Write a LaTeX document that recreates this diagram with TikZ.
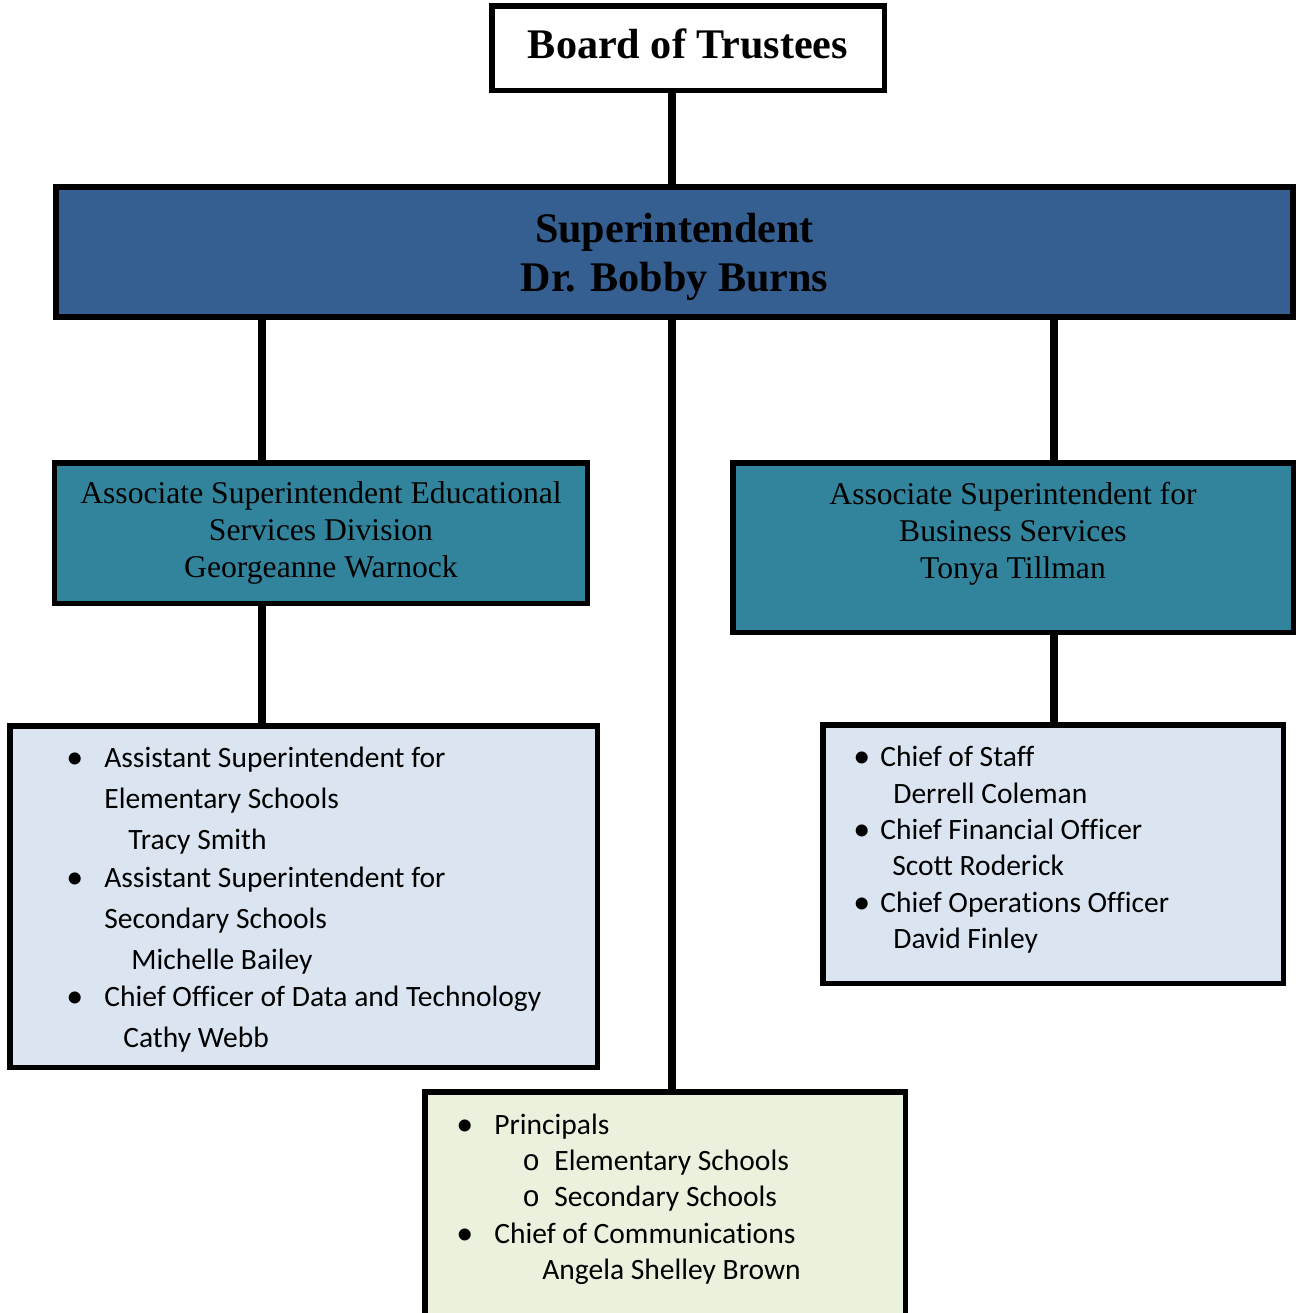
\documentclass[tikz,border=0pt]{standalone}
\usepackage{fontspec}
\setmainfont{Liberation Serif}
\newfontfamily\listfont[Ligatures=NoCommon]{Carlito}
\newfontfamily\subfont{Liberation Mono}
\usetikzlibrary{positioning}

\definecolor{superblue}{RGB}{54,95,145}
\definecolor{assocteal}{RGB}{49,132,155}
\definecolor{listblue}{RGB}{219,229,241}
\definecolor{listgreen}{RGB}{234,241,221}

\newcommand{\bul}[1]{\makebox[#1][l]{\hspace*{-0.1cm}\raisebox{-0.02cm}{\scalebox{1.15}{\textbullet}}}}

\begin{document}
\begin{tikzpicture}[
    box/.style={rectangle, draw, line width=0.11cm, inner sep=0pt},
    header/.style={box, fill=white, align=center,
                   font=\fontsize{24}{27.8}\selectfont\bfseries},
    chief/.style={box, fill=superblue, align=center,
                  font=\fontsize{24}{27.8}\selectfont\bfseries},
    assoc/.style={box, fill=assocteal, align=center,
                  font=\fontsize{18}{21}\selectfont},
    assoctext/.style={inner sep=0pt, align=center,
                      font=\fontsize{18}{21}\selectfont},
    listbox/.style={box, fill=listblue},
    listtext/.style={inner sep=0pt, align=left, anchor=north west},
    link/.style={line width=0.16cm}
]
    \useasboundingbox (0,0) rectangle (25.92,-26.26);

    \node[header, minimum width=7.85cm, minimum height=1.69cm, text depth=0.16cm] (board) at (13.76,-0.96) {Board of Trustees};
    \node[chief, minimum width=24.74cm, minimum height=2.6cm, text depth=0pt]   (super)   at (13.49,-5.04)  {Superintendent\\Dr. Bobby Burns};
    \node[assoc, minimum width=10.66cm, minimum height=2.81cm]  (ed)      at (6.42,-10.66)  {Associate Superintendent Educational\\Services Division\\Georgeanne Warnock};
    \node[assoc, minimum width=11.21cm, minimum height=3.39cm]  (bus)     at (20.26,-10.95) {};
    \node[assoctext, below=0.44cm of bus.north]                 (bustext) {Associate Superintendent for\\Business Services\\Tonya Tillman};
    \node[listbox, minimum width=11.75cm, minimum height=6.83cm] (edlist)  at (6.07,-17.93)  {};
    \node[listbox, minimum width=9.21cm, minimum height=5.17cm]  (opslist) at (21.06,-17.08) {};
    \node[box, fill=listgreen, minimum width=9.61cm, minimum height=5.36cm] (schools) at (13.3,-24.52) {};

    \node[listtext, below right=0.48cm and 1.28cm of edlist.north west,
          font=\listfont\fontsize{16.8}{23.3}\selectfont] (edtext) {%
        \bul{0.66cm}Assistant Superintendent for\\
        \hspace*{0.66cm}Elementary Schools\\
        \hspace*{1.14cm}Tracy Smith\\[-0.07cm]
        \bul{0.66cm}Assistant Superintendent for\\
        \hspace*{0.66cm}Secondary Schools\\
        \hspace*{1.2cm}Michelle Bailey\\[-0.07cm]
        \bul{0.66cm}Chief Officer of Data and Technology\\
        \hspace*{1.04cm}Cathy Webb};
    \node[listtext, below right=0.48cm and 0.76cm of opslist.north west,
          font=\listfont\fontsize{16.8}{20.7}\selectfont] (opstext) {%
        \bul{0.44cm}Chief of Staff\\
        \hspace*{0.7cm}Derrell Coleman\\
        \bul{0.44cm}Chief Financial Officer\\
        \hspace*{0.68cm}Scott Roderick\\
        \bul{0.44cm}Chief Operations Officer\\
        \hspace*{0.7cm}David Finley};
    \node[listtext, below right=0.48cm and 0.78cm of schools.north west,
          font=\listfont\fontsize{16.8}{20.7}\selectfont] (schooltext) {%
        \bul{0.66cm}Principals\\
        \hspace*{1.22cm}\makebox[0.64cm][l]{\subfont o}Elementary Schools\\
        \hspace*{1.22cm}\makebox[0.64cm][l]{\subfont o}Secondary Schools\\
        \bul{0.66cm}Chief of Communications\\
        \hspace*{1.62cm}Angela Shelley Brown};

    \coordinate (leftcol)  at (5.24,0);
    \coordinate (midcol)   at (13.44,0);
    \coordinate (rightcol) at (21.08,0);

    \draw[link] (board.south -| midcol)   -- (super.north -| midcol);
    \draw[link] (super.south -| leftcol)  -- (ed.north -| leftcol);
    \draw[link] (super.south -| midcol)   -- (schools.north -| midcol);
    \draw[link] (super.south -| rightcol) -- (bus.north -| rightcol);
    \draw[link] (ed.south -| leftcol)     -- (edlist.north -| leftcol);
    \draw[link] (bus.south -| rightcol)   -- (opslist.north -| rightcol);
\end{tikzpicture}
\end{document}
